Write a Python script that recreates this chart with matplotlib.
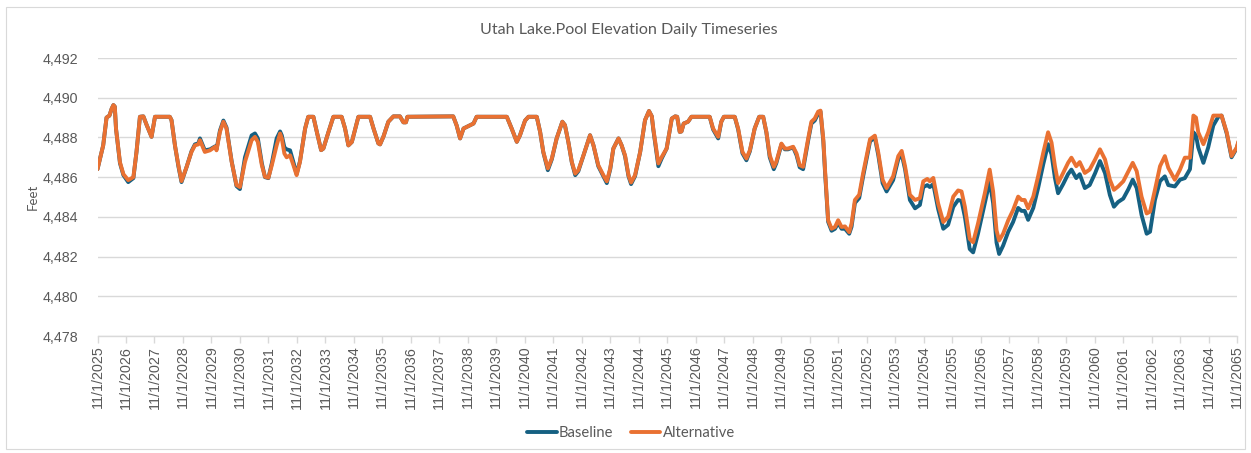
import datetime as dt
import matplotlib
matplotlib.use("Agg")
import matplotlib.pyplot as plt
import matplotlib.dates as mdates
from matplotlib.ticker import FuncFormatter, FixedLocator
from matplotlib.patches import Rectangle

# ---------------- data ----------------
title = "Utah Lake.Pool Elevation Daily Timeseries"
series_names = ["Baseline", "Alternative"]
start_date = dt.date(2025, 11, 1)

# time in years since 11/1/2025
years_since_start = [
    0.00, 0.20, 0.32, 0.42, 0.50, 0.56, 0.61, 0.65, 0.79, 0.91, 1.08, 1.26, 1.37, 1.49, 1.61, 1.73, 1.90,
    2.02, 2.54, 2.60, 2.72, 2.84, 2.95, 3.13, 3.30, 3.42, 3.54, 3.60, 3.77, 3.95, 4.13, 4.18, 4.30, 4.42,
    4.53, 4.71, 4.88, 5.00, 5.18, 5.41, 5.53, 5.63, 5.77, 5.88, 6.00, 6.12, 6.29, 6.41, 6.47, 6.56, 6.64,
    6.76, 6.88, 6.99, 7.11, 7.29, 7.40, 7.58, 7.70, 7.85, 7.93, 8.11, 8.28, 8.57, 8.69, 8.81, 8.93, 9.16,
    9.57, 9.69, 9.86, 9.92, 10.04, 10.21, 10.39, 10.62, 10.74, 10.83, 10.88, 12.49, 12.61, 12.73, 12.85,
    13.20, 13.31, 14.37, 14.54, 14.72, 14.83, 15.01, 15.13, 15.42, 15.54, 15.65, 15.81, 15.95, 16.12,
    16.32, 16.41, 16.53, 16.65, 16.77, 16.88, 17.06, 17.29, 17.41, 17.58, 17.76, 17.88, 18.00, 18.11,
    18.29, 18.40, 18.52, 18.64, 18.73, 18.87, 19.05, 19.22, 19.36, 19.46, 19.51, 19.69, 19.81, 19.98,
    20.16, 20.28, 20.35, 20.44, 20.50, 20.58, 20.73, 20.85, 21.49, 21.61, 21.79, 21.90, 21.99, 22.37,
    22.49, 22.64, 22.78, 22.90, 23.07, 23.23, 23.37, 23.48, 23.60, 23.74, 23.83, 24.01, 24.13, 24.24,
    24.42, 24.54, 24.65, 24.77, 24.95, 25.06, 25.18, 25.30, 25.38, 25.48, 25.54, 25.65, 25.77, 25.89,
    26.00, 26.12, 26.24, 26.39, 26.47, 26.59, 26.74, 26.88, 27.12, 27.29, 27.41, 27.56, 27.70, 27.93,
    28.11, 28.23, 28.35, 28.52, 28.70, 28.87, 28.99, 29.13, 29.22, 29.34, 29.51, 29.69, 29.86, 30.04,
    30.21, 30.33, 30.45, 30.62, 30.74, 30.91, 31.15, 31.32, 31.44, 31.56, 31.65, 31.79, 31.97, 32.14,
    32.32, 32.44, 32.55, 32.67, 32.85, 33.02, 33.20, 33.37, 33.49, 33.61, 33.72, 33.90, 34.07, 34.19,
    34.36, 34.48, 34.66, 34.83, 35.02, 35.19, 35.37, 35.54, 35.68, 35.83, 36.01, 36.19, 36.34, 36.48,
    36.65, 36.83, 36.95, 37.12, 37.30, 37.47, 37.59, 37.82, 38.00, 38.17, 38.35, 38.47, 38.56, 38.64,
    38.82, 38.99, 39.17, 39.35, 39.46, 39.64, 39.81, 39.99, 40.05,
]

alternative = [
    4486.40, 4487.60, 4489.00, 4489.10, 4489.45, 4489.63, 4489.55, 4488.45, 4486.75, 4486.15, 4485.85, 4486.00, 4487.27, 4489.04, 4489.06, 4488.62, 4488.03,
    4489.04, 4489.04, 4488.87, 4487.60, 4486.60, 4485.80, 4486.52, 4487.27, 4487.60, 4487.65, 4487.86, 4487.27, 4487.35, 4487.53, 4487.35, 4488.28, 4488.79,
    4488.45, 4486.77, 4485.60, 4485.50, 4486.77, 4487.86, 4488.03, 4487.77, 4486.60, 4486.02, 4485.97, 4486.60, 4487.60, 4488.20, 4487.95, 4487.19, 4487.00,
    4487.10, 4486.60, 4486.10, 4486.77, 4488.45, 4489.04, 4489.04, 4488.28, 4487.36, 4487.44, 4488.28, 4489.04, 4489.04, 4488.45, 4487.60, 4487.77, 4489.04,
    4489.04, 4488.45, 4487.70, 4487.65, 4488.05, 4488.79, 4489.06, 4489.06, 4488.76, 4488.76, 4489.04, 4489.06, 4488.60, 4487.95, 4488.45,
    4488.70, 4489.04, 4489.04, 4488.45, 4487.78, 4488.10, 4488.85, 4489.04, 4489.04, 4488.28, 4487.27, 4486.44, 4486.94, 4487.95,
    4488.79, 4488.62, 4487.77, 4486.77, 4486.18, 4486.35, 4487.10, 4488.11, 4487.60, 4486.60, 4486.10, 4485.79, 4486.44, 4487.44,
    4487.95, 4487.60, 4487.10, 4486.10, 4485.73, 4486.10, 4487.27, 4488.87, 4489.33, 4489.06, 4488.45, 4486.69, 4487.02, 4487.44,
    4488.95, 4489.06, 4489.04, 4488.28, 4488.30, 4488.70, 4488.79, 4489.04, 4489.04, 4488.45, 4488.03, 4488.79, 4489.04, 4489.04,
    4488.45, 4487.27, 4486.94, 4487.35, 4488.45, 4489.04, 4489.04, 4488.28, 4487.10, 4486.52, 4486.77, 4487.69, 4487.44, 4487.44,
    4487.53, 4487.19, 4486.60, 4486.52, 4487.95, 4488.79, 4488.95, 4489.30, 4489.35, 4487.90, 4486.38, 4483.83, 4483.40, 4483.49,
    4483.83, 4483.49, 4483.52, 4483.23, 4483.66, 4484.85, 4485.11, 4486.21, 4487.91, 4488.09, 4487.23, 4485.87, 4485.45, 4486.04,
    4487.06, 4487.32, 4486.55, 4485.11, 4484.85, 4484.94, 4485.79, 4485.91, 4485.79, 4485.96, 4484.68, 4483.74, 4484.00, 4485.02,
    4485.33, 4485.28, 4484.51, 4482.89, 4482.72, 4483.66, 4485.19, 4486.38, 4485.28, 4483.32, 4482.81, 4483.15, 4483.83, 4484.34,
    4485.02, 4484.85, 4484.85, 4484.43, 4485.02, 4486.04, 4487.23, 4488.26, 4487.74, 4486.55, 4485.70, 4486.21, 4486.72, 4486.98,
    4486.55, 4486.76, 4486.21, 4486.38, 4486.89, 4487.40, 4486.89, 4485.87, 4485.36, 4485.53, 4485.79, 4486.30, 4486.72, 4486.30,
    4485.02, 4484.17, 4484.26, 4485.36, 4486.55, 4487.06, 4486.47, 4485.87, 4486.38, 4486.98, 4486.98, 4489.10, 4489.00, 4488.26,
    4487.66, 4488.26, 4489.10, 4489.10, 4489.10, 4488.26, 4487.06, 4487.49, 4487.80,
]

baseline = [
    4486.40, 4487.60, 4489.00, 4489.10, 4489.45, 4489.63, 4489.55, 4488.45, 4486.70, 4486.10, 4485.75, 4485.95, 4487.27, 4489.04, 4489.06, 4488.62, 4488.03,
    4489.04, 4489.04, 4488.87, 4487.60, 4486.55, 4485.75, 4486.52, 4487.30, 4487.65, 4487.70, 4487.95, 4487.35, 4487.40, 4487.55, 4487.40, 4488.35, 4488.85,
    4488.50, 4486.80, 4485.55, 4485.40, 4487.00, 4488.10, 4488.20, 4487.95, 4486.70, 4486.00, 4485.95, 4486.70, 4487.95, 4488.30, 4488.10, 4487.50, 4487.40,
    4487.35, 4486.75, 4486.15, 4486.80, 4488.45, 4489.04, 4489.04, 4488.28, 4487.36, 4487.44, 4488.28, 4489.04, 4489.04, 4488.45, 4487.60, 4487.77, 4489.04,
    4489.04, 4488.45, 4487.70, 4487.65, 4488.05, 4488.79, 4489.06, 4489.06, 4488.76, 4488.76, 4489.04, 4489.06, 4488.60, 4487.95, 4488.45,
    4488.70, 4489.04, 4489.04, 4488.45, 4487.78, 4488.10, 4488.85, 4489.04, 4489.04, 4488.28, 4487.25, 4486.35, 4486.90, 4487.95,
    4488.79, 4488.62, 4487.77, 4486.75, 4486.10, 4486.30, 4487.10, 4488.11, 4487.60, 4486.55, 4486.05, 4485.70, 4486.40, 4487.44,
    4487.95, 4487.60, 4487.05, 4486.05, 4485.65, 4486.05, 4487.27, 4488.87, 4489.33, 4489.06, 4488.40, 4486.55, 4486.95, 4487.44,
    4488.95, 4489.06, 4489.04, 4488.28, 4488.30, 4488.70, 4488.79, 4489.04, 4489.04, 4488.40, 4487.95, 4488.79, 4489.04, 4489.04,
    4488.40, 4487.20, 4486.85, 4487.30, 4488.45, 4489.04, 4489.04, 4488.25, 4487.00, 4486.40, 4486.70, 4487.65, 4487.40, 4487.40,
    4487.50, 4487.10, 4486.50, 4486.40, 4487.85, 4488.70, 4488.85, 4489.20, 4489.30, 4487.80, 4486.25, 4483.75, 4483.30, 4483.40,
    4483.70, 4483.40, 4483.40, 4483.15, 4483.50, 4484.70, 4484.95, 4486.05, 4487.80, 4488.00, 4487.10, 4485.70, 4485.28, 4485.85,
    4486.90, 4487.15, 4486.40, 4484.85, 4484.43, 4484.60, 4485.50, 4485.60, 4485.50, 4485.65, 4484.40, 4483.40, 4483.60, 4484.50,
    4484.85, 4484.80, 4484.00, 4482.38, 4482.21, 4483.15, 4484.70, 4485.79, 4484.70, 4482.70, 4482.13, 4482.55, 4483.25, 4483.74,
    4484.45, 4484.30, 4484.30, 4483.85, 4484.45, 4485.45, 4486.65, 4487.66, 4487.15, 4485.95, 4485.19, 4485.65, 4486.15, 4486.38,
    4485.95, 4486.15, 4485.45, 4485.60, 4486.20, 4486.81, 4486.20, 4485.10, 4484.51, 4484.75, 4484.92, 4485.40, 4485.87, 4485.45,
    4484.10, 4483.15, 4483.25, 4484.85, 4485.80, 4486.04, 4485.60, 4485.53, 4485.87, 4485.95, 4486.40, 4488.26, 4488.10, 4487.50,
    4486.72, 4487.50, 4488.60, 4489.05, 4489.10, 4488.20, 4487.00, 4487.45, 4487.75,
]

y_ticks = [4478, 4480, 4482, 4484, 4486, 4488, 4490, 4492]
tick_years = list(range(2025, 2066))
x_tick_labels = [f"11/1/{y}" for y in tick_years]

# ---------------- styling ----------------
BLUE = "#156082"
ORANGE = "#E97132"
GRID = "#D9D9D9"
TEXT = "#595959"

W, H = 1251, 453
fig = plt.figure(figsize=(W / 100, H / 100), dpi=100)
fig.patch.set_facecolor("white")

# outer chart border
fig.add_artist(Rectangle((6 / W, 4 / H), 1239 / W, 442 / H, transform=fig.transFigure,
                         fill=False, edgecolor="#D9D9D9", linewidth=0.8))

ax = fig.add_axes([97.5 / W, 1 - 336 / H, (1237 - 97.5) / W, (336 - 58) / H])

dates = [start_date + dt.timedelta(days=t * 365.25) for t in years_since_start]
ax.plot(dates, baseline, color=BLUE, lw=2.8, label=series_names[0],
        solid_joinstyle="round", solid_capstyle="round")
ax.plot(dates, alternative, color=ORANGE, lw=2.8, label=series_names[1],
        solid_joinstyle="round", solid_capstyle="round")

tick_dates = [dt.date(y, 11, 1) for y in tick_years]
ax.set_xlim(tick_dates[0], tick_dates[-1])
ax.xaxis.set_major_locator(FixedLocator(mdates.date2num(tick_dates)))
ax.set_xticklabels(x_tick_labels, rotation=90, fontsize=10.3, color=TEXT, family="Liberation Sans")

ax.set_ylim(y_ticks[0], y_ticks[-1])
ax.set_yticks(y_ticks)
ax.yaxis.set_major_formatter(FuncFormatter(lambda v, p: f"{int(v):,}"))
for lbl in ax.get_yticklabels():
    lbl.set_fontsize(10.3)
    lbl.set_color(TEXT)
    lbl.set_family("Liberation Sans")

ax.grid(axis="y", color=GRID, lw=1.0)
ax.set_axisbelow(True)
for s in ["top", "right", "left"]:
    ax.spines[s].set_visible(False)
ax.spines["bottom"].set_color(GRID)
ax.spines["bottom"].set_linewidth(1.0)
ax.tick_params(axis="x", direction="out", length=5, color=GRID, width=1.0, pad=2)
ax.tick_params(axis="y", length=0, pad=14)

fig.text(629 / W, 1 - 30 / H, title, ha="center", va="center", fontsize=11.6, color=TEXT, family="Lato")
fig.text(33 / W, 1 - 197 / H, "Feet", ha="center", va="center", rotation=90, fontsize=9.5, color=TEXT, family="Lato")

leg = fig.legend(loc="center", bbox_to_anchor=(631 / W, 1 - 433 / H), ncol=2, frameon=False,
                 prop={"family": "Lato", "size": 10.6}, handlelength=2.0, handletextpad=0.15,
                 columnspacing=1.2)
for t in leg.get_texts():
    t.set_color(TEXT)

fig.savefig("out.png", dpi=100)
